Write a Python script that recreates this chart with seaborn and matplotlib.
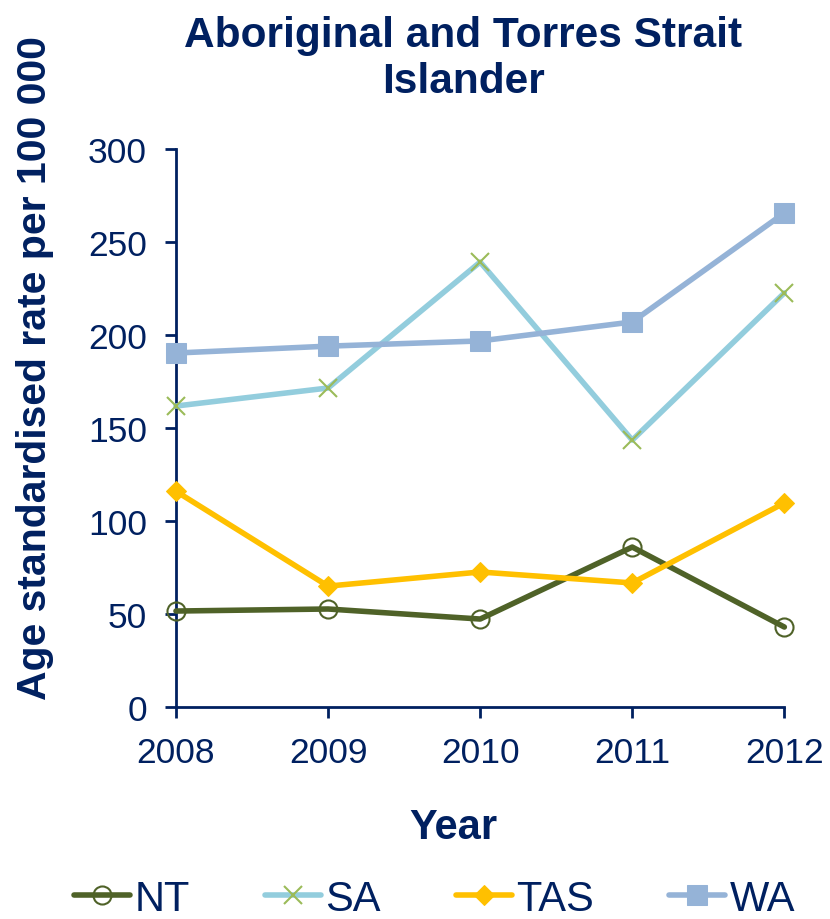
import matplotlib
matplotlib.use("Agg")
import matplotlib.pyplot as plt
import seaborn as sns
import pandas as pd

years = [2008, 2009, 2010, 2011, 2012]
nt = [51.6, 52.7, 47.3, 86.0, 43.0]
sa = [161.8, 171.5, 239.2, 143.5, 222.6]
tas = [116.0, 65.0, 72.6, 66.7, 109.7]
wa = [190.3, 194.0, 196.8, 207.0, 265.6]

title = "Aboriginal and Torres Strait\nIslander"
ylabel = "Age standardised rate per 100 000"
xlabel = "Year"

sns.set_theme(style="white")
plt.rcParams["font.family"] = ["Liberation Sans", "DejaVu Sans"]

navy = "#002060"

series = [
    ("NT", nt, dict(color="#4F6228", marker="o", markerfacecolor="none",
                    markeredgecolor="#4F6228", markersize=13, markeredgewidth=1.5)),
    ("SA", sa, dict(color="#93CDDD", marker="x", markeredgecolor="#9BBB59",
                    markersize=13, markeredgewidth=1.5)),
    ("TAS", tas, dict(color="#FFC000", marker="D", markerfacecolor="#FFC000",
                      markeredgecolor="#FFC000", markersize=10)),
    ("WA", wa, dict(color="#95B3D7", marker="s", markerfacecolor="#95B3D7",
                    markeredgecolor="#95B3D7", markersize=14)),
]

fig = plt.figure(figsize=(8.3, 9.2), dpi=100)
ax = fig.add_axes([0.212, 0.2304, 0.733, 0.6066])

for name, vals, style in series:
    df = pd.DataFrame({"year": years, "rate": vals})
    sns.lineplot(data=df, x="year", y="rate", ax=ax, label=name,
                 linewidth=4, clip_on=False, zorder=3, **style)

ax.set_xlim(2008, 2012)
ax.set_ylim(0, 300)
ax.set_xticks(years)
ax.set_xticklabels([str(y) for y in years])
ax.set_yticks([0, 50, 100, 150, 200, 250, 300])

for side in ["top", "right"]:
    ax.spines[side].set_visible(False)
for side in ["left", "bottom"]:
    ax.spines[side].set_color(navy)
    ax.spines[side].set_linewidth(2)

ax.tick_params(axis="both", direction="out", length=8, width=2, color=navy,
               labelcolor=navy, labelsize=25.5, pad=13)
ax.tick_params(axis="y", left=True)
ax.tick_params(axis="x", bottom=True)

ax.set_xlabel(xlabel, fontsize=30, fontweight="bold", color=navy, va="center")
ax.xaxis.set_label_coords(0.456, -0.215)
ax.set_ylabel(ylabel, fontsize=29.5, fontweight="bold", color=navy,
              va="center", ha="center")
ax.yaxis.set_label_coords(-0.232, 0.609)
fig.text(0.558, 0.983, title, ha="center", va="top", fontsize=30.5,
         fontweight="bold", color=navy, linespacing=1.2)

handles, labels = ax.get_legend_handles_labels()
leg = ax.legend(handles, labels, loc="center", bbox_to_anchor=(0.5235, 0.022),
                bbox_transform=fig.transFigure, ncol=4, frameon=False,
                fontsize=30, handlelength=1.35, columnspacing=1.8,
                handletextpad=0.1, borderaxespad=0, borderpad=0)
for t in leg.get_texts():
    t.set_color(navy)

fig.savefig("out.png", dpi=100)
